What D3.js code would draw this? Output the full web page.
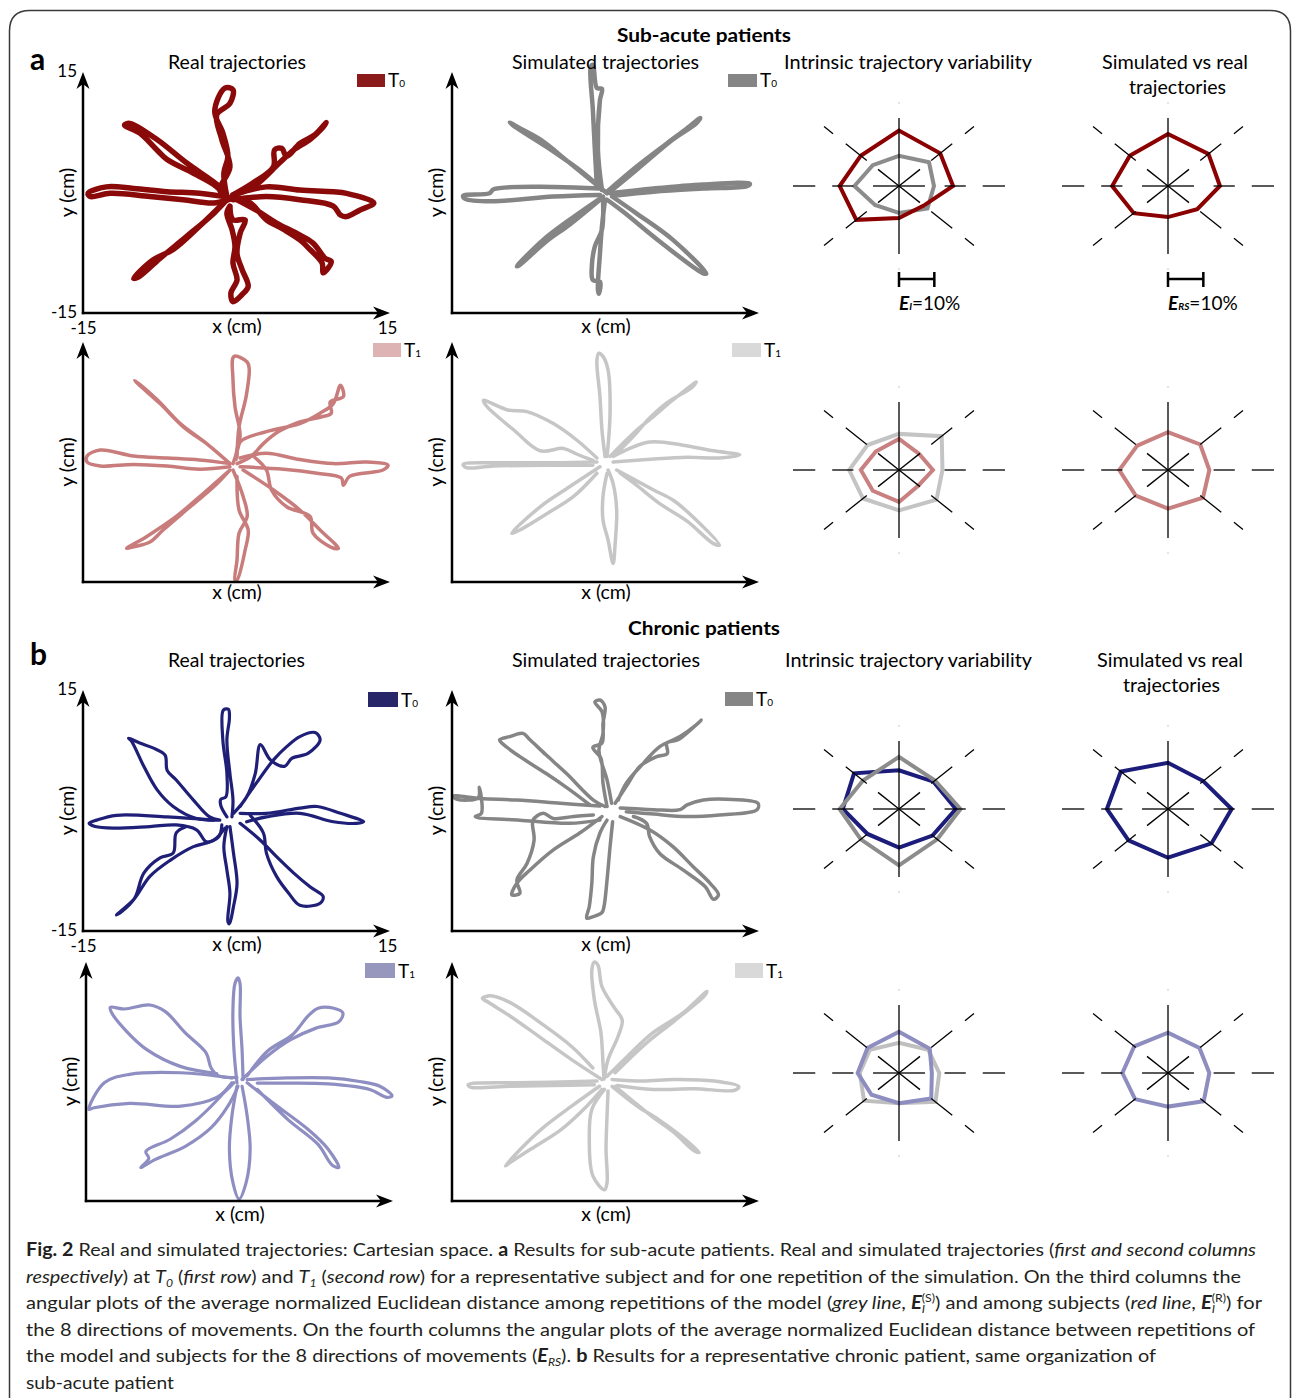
<!DOCTYPE html>
<html>
<head>
  <meta charset="utf-8">
  <script src="https://d3js.org/d3.v7.min.js"></script>
  <title>Real and simulated trajectories: Cartesian space</title>
  <style>
    body { margin: 0; background: #ffffff; }
    text { font-family: Lato, "Open Sans", sans-serif; white-space: pre; }
  </style>
</head>
<body>
  <div class="chart"></div>
  <script type="text/javascript">
    // Reaching movements, x / y in cm. One flat [x, y, x, y, ...] list per movement
    // (out to the target and back), 8 movements per panel.
    var subAcuteRealT0 = [
      [-0.8,-0.5, -1.1,2.4, -0.7,4.5, -1.2,7.4, -2.0,10.1, -1.0,13.0, -0.2,12.8, -0.5,11.1, -1.8,9.7, -1.3,6.6, -0.5,3.2, -1.5,0.3, -0.8,-0.5],
      [-0.8,-0.5, -2.1,1.0, -4.1,2.4, -6.7,4.1, -7.7,5.3, -9.4,7.4, -10.9,8.4, -10.4,8.6, -7.7,6.6, -4.8,3.7, -1.5,0.7, -0.8,-0.5],
      [-0.2,-0.3, 1.8,1.2, 3.8,3.2, 3.9,5.3, 4.6,5.5, 5.1,4.5, 6.4,6.1, 7.9,7.2, 9.0,8.7, 8.6,8.0, 7.4,6.6, 5.8,5.3, 4.4,3.7, 1.8,0.7, -0.2,-0.3],
      [-0.2,-0.3, 3.1,0.7, 6.4,0.3, 9.7,0.1, 11.0,-0.1, 13.7,-1.3, 12.3,-2.2, 11.0,-3.0, 10.4,-2.8, 9.7,-1.7, 6.4,-0.9, 3.1,-0.5, -0.2,-0.9],
      [-0.2,-0.7, -3.5,-0.1, -6.7,0.1, -10.0,0.5, -12.7,0.7, -14.5,-0.1, -14.3,-0.5, -12.3,-0.1, -8.4,-0.5, -5.1,-0.9, -2.1,-1.3, -0.2,-0.7],
      [0.2,-0.9, 2.1,-2.2, 4.1,-3.8, 6.1,-5.1, 7.7,-6.3, 8.9,-8.2, 9.5,-8.6, 8.7,-10.0, 8.6,-8.8, 7.4,-7.1, 6.4,-5.9, 4.8,-4.6, 3.1,-3.4, 1.5,-1.3, 0.2,-0.9],
      [-0.5,-1.7, -0.2,-3.4, 1.0,-3.4, 0.5,-5.1, 0.2,-7.6, 0.7,-9.6, 1.3,-11.7, 0.7,-12.7, -0.2,-13.6, -0.4,-12.5, 0.2,-10.9, -0.2,-8.8, 0,-6.7, -0.3,-4.6, -0.8,-2.6, -0.5,-1.7],
      [-0.8,-0.9, -3.5,-4.2, -6.1,-7.1, -8.1,-8.4, -10.0,-10.7, -9.5,-10.5, -7.4,-8.2, -4.8,-5.5, -2.1,-2.6, -0.8,-0.9]
    ];
    var subAcuteSimT0 = [
      [-0.2,0.3, -0.6,5.3, -0.4,11.5, -0.2,12.9, -0.7,13.0, -1.1,15.9, -1.3,15.7, -1.1,10.3, -0.9,5.3, -0.7,0.7],
      [0.3,-0.1, -3.4,3.7, -6.3,6.6, -8.3,8.0, -9.3,8.7, -8.8,8.2, -5.7,5.7, -2.0,2.4, -0.1,0.3],
      [0.3,0.1, 3.2,3.2, 6.2,6.1, 8.2,8.0, 9.5,9.3, 9.1,8.6, 6.8,6.6, 3.2,2.8, 0.6,0.1],
      [0.6,-0.1, 4.9,0.5, 9.8,1.0, 14.4,1.1, 14.1,0.8, 9.8,0.5, 4.9,0.1, 0.9,-0.4],
      [-0.4,0.5, -5.0,0.7, -10.9,0.4, -11.3,-0.1, -13.9,-0.4, -13.7,-0.8, -11.1,-1.1, -5.0,-0.5, -0.4,-0.3],
      [0.8,-0.5, 3.2,-2.6, 6.8,-5.9, 10.1,-10.1, 9.7,-10.0, 5.5,-6.1, 1.9,-2.4, 0.3,-0.9],
      [-0.1,-0.9, -0.2,-4.6, -0.9,-6.7, -1.2,-9.2, -1.1,-10.9, -0.4,-11.1, -0.5,-12.6, -0.6,-12.1, -0.4,-7.6, -0.2,-4.2, 0.1,-0.9],
      [-0.1,-0.5, -3.4,-3.4, -6.0,-5.9, -8.6,-9.2, -8.3,-9.0, -5.7,-6.1, -3.4,-4.0, -0.4,-0.9]
    ];
    var subAcuteRealT1 = [
      [-0.2,-0.2, 0.5,3.2, 0,6.9, -0.2,10.3, -0.1,13.2, 1.2,12.5, 1.4,11.7, 1.1,8.2, 0.4,4.4, 0.2,0.7],
      [-0.5,-0.2, -2.8,2.3, -5.4,4.8, -7.7,7.8, -9.9,10.2, -9.6,9.8, -7.4,7.3, -5.1,4.4, -2.5,2.0, -0.5,-0.2],
      [0.1,0.3, 0.5,2.5, 3.1,3.8, 6.4,4.8, 8.4,6.1, 9.7,7.3, 10.4,9.6, 10.7,8.2, 9.4,7.5, 9.5,6.1, 8.4,5.6, 6.4,5.0, 4.3,3.8, 2.8,2.3, 1.6,0.7, 0.2,-0.2],
      [0.5,0.5, 3.1,1.1, 6.4,0.3, 9.7,-0.2, 13.0,0, 15.1,-0.4, 14.6,-1.0, 11.3,-1.8, 10.7,-2.9, 10.5,-2.0, 8.1,-1.4, 4.8,-0.9, 0.5,-0.6],
      [-0.5,-0.2, -3.5,0.25, -6.7,0.5, -10.0,0.75, -13.3,1.5, -14.6,0.75, -14.6,0, -13.3,-0.5, -10.0,-0.3, -6.7,-0.5, -3.5,-0.9, -0.5,-0.6],
      [0.8,-1.0, 3.8,-3.5, 6.4,-6.0, 8.4,-8.5, 10.2,-10.8, 9.4,-10.6, 7.7,-8.9, 7.4,-6.8, 5.1,-5.6, 3.6,-3.5, 3.1,-1.0, 1.8,0.75],
      [-0.2,-1.0, 0.8,-4.3, 1.2,-6.8, 0.4,-8.9, 0.2,-12.25, 0,-14.8, 0.2,-14.75, 1.0,-11.0, 1.3,-8.5, 0.4,-6.0, 0.2,-1.8],
      [-0.5,-1.0, -3.1,-3.9, -5.8,-6.8, -8.7,-9.3, -10.7,-10.8, -10.0,-10.6, -8.4,-10.0, -7.1,-8.5, -4.8,-6.0, -2.1,-3.1, -0.5,-1.0]
    ];
    var subAcuteSimT1 = [
      [0.3,0.7, 0.6,6.1, 0.4,11.5, -0.1,13.2, -0.5,13.6, -0.7,12.75, -0.4,8.2, -0.2,4.0, 0.1,0.7],
      [-0.7,0.5, -2.7,2.75, -5.0,4.8, -7.6,6.3, -9.5,6.5, -11.9,7.7, -11.6,7.0, -8.9,4.0, -6.3,1.4, -4.0,1.7, -2.7,1.0, -1.1,0.2],
      [0.6,0.7, 2.9,3.6, 4.9,5.7, 6.8,7.75, 9.1,10.0, 8.65,9.3, 6.2,7.4, 4.5,5.5, 2.9,3.2, 1.1,0.9],
      [0.9,0.7, 4.5,2.5, 7.8,2.1, 10.8,1.4, 13.4,0.9, 11.4,0.5, 8.2,0.6, 4.2,0.3, 0.9,0],
      [-0.7,0, -5.0,-0.1, -10.6,-0.1, -13.9,-0.3, -13.6,-0.7, -10.9,-0.5, -5.0,-0.4, -1.1,-0.4],
      [1.25,-1.0, 4.9,-3.5, 6.8,-4.75, 9.1,-7.25, 11.4,-10.4, 10.8,-10.2, 8.2,-7.4, 5.5,-5.2, 3.2,-2.9, 1.6,-1.4],
      [0.3,-1.4, -0.1,-4.3, -0.1,-7.25, 0.4,-9.75, 0.9,-12.7, 1.1,-10.2, 1.25,-6.0, 0.9,-2.7, 0.4,-1.0],
      [-0.4,-0.6, -3.4,-3.1, -6.3,-5.6, -9.1,-8.9, -8.3,-8.5, -5.3,-6.2, -3.0,-4.3, -0.7,-1.4]
    ];
    var chronicRealT0 = [
      [-0.8,-0.8, -1.4,0.6, -1.4,1.4, -0.9,1.7, -0.8,4.6, -1.2,8.8, -1.15,12.5, -0.65,12.6, -0.55,11.5, -0.8,8.8, -0.5,4.6, -0.2,1.3, -0.3,-0.8],
      [-1.5,-1.2, -2.5,-0.8, -4.1,1.3, -5.8,3.8, -6.7,5.0, -6.9,6.9, -8.1,7.8, -9.4,8.4, -10.5,9.0, -10.2,8.6, -9.0,5.5, -7.7,2.6, -6.1,0.5, -3.8,-1.0, -1.5,-1.2],
      [-0.15,-0.35, 1.15,1.7, 2.0,4.6, 2.5,8.2, 3.5,6.3, 4.9,5.5, 5.6,6.5, 7.2,7.1, 8.4,8.8, 7.9,9.7, 6.4,9.2, 5.1,7.95, 3.8,6.3, 2.1,3.4, 0.5,0.5],
      [0.5,-0.35, 3.1,-0.35, 6.4,0.3, 8.1,0.5, 10.4,-0.35, 12.7,-1.4, 12.0,-1.6, 9.7,-1.4, 6.4,-0.35, 3.1,-0.8, 1.15,-1.4],
      [-2.1,-1.2, -6.7,-0.8, -11.7,-0.6, -13.65,-1.2, -14.4,-1.6, -13.8,-2.0, -12.0,-2.2, -8.4,-2.0, -5.8,-1.8, -3.8,-2.4, -2.8,-3.9, -1.6,-3.25, -1.3,-1.8],
      [0.5,-1.6, 2.5,-3.7, 4.1,-5.75, 5.8,-7.8, 7.4,-9.5, 8.7,-10.7, 8.4,-11.55, 6.4,-11.8, 5.3,-10.3, 4.1,-8.2, 3.1,-5.3, 2.8,-2.8, 1.5,-0.6],
      [-0.5,-2.0, -0.15,-5.3, 0.2,-9.1, -0.15,-11.95, -0.55,-14.1, -0.7,-13.85, -0.5,-10.3, -0.8,-7.4, -1.1,-4.5, -0.8,-2.0],
      [-1.0,-2.2, -2.1,-3.7, -4.1,-4.5, -6.4,-6.2, -8.4,-8.2, -10.0,-11.1, -11.7,-13.0, -11.2,-12.6, -9.9,-10.9, -9.0,-7.8, -7.4,-5.9, -6.1,-5.3, -5.8,-2.8, -4.8,-2.0]
    ];
    var chronicSimT0 = [
      [0.3,0.5, -0.1,3.4, -0.3,6.5, -1.1,7.85, -0.2,8.4, -0.1,10.85, 0.1,12.9, -0.4,13.75, -0.9,13.5, -0.2,12.3, -0.1,9.6, -0.5,7.5, 0.3,3.8, 0.75,0.9],
      [0.1,0.5, -1.05,1.3, -3.7,4.6, -5.7,6.9, -7.3,8.8, -8.0,9.6, -9.3,9.2, -10.3,8.8, -10.0,8.3, -8.3,6.7, -5.7,4.6, -3.4,2.6, -1.4,0.7],
      [1.1,0.9, 2.2,3.0, 3.55,5.5, 5.2,6.7, 6.25,7.1, 6.2,8.4, 7.3,8.8, 9.6,11.25, 9.1,10.65, 7.5,9.2, 5.5,7.95, 3.9,5.9, 2.2,3.4, 1.4,1.3],
      [1.6,0.3, 4.9,0.1, 7.5,0.1, 8.2,0.7, 9.8,1.3, 12.1,1.4, 15.2,0.9, 15.1,0.1, 11.4,-0.55, 8.2,-0.75, 4.9,-0.45, 2.2,-0.15],
      [-0.4,0.55, -4.3,0.9, -8.6,1.3, -12.2,1.5, -14.9,1.8, -14.5,1.4, -12.4,1.6, -12.3,2.9, -12.1,-0.35, -12.7,-0.75, -8.3,-1.2, -3.4,-1.6, -0.4,-1.2],
      [1.6,-0.75, 4.5,-2.4, 6.8,-4.5, 8.8,-7.0, 10.5,-9.1, 11.3,-10.5, 10.8,-11.05, 10.0,-9.5, 7.8,-7.4, 5.5,-5.35, 4.5,-3.25, 4.2,-1.6, 2.9,-0.75],
      [0.3,-1.2, -0.4,-2.8, -1.05,-5.75, -1.2,-9.05, -1.45,-11.95, -1.7,-13.4, -1.05,-13.2, -0.2,-12.7, 0,-11.95, 0.3,-8.65, 0.6,-4.5, 0.85,-1.4],
      [-0.2,-0.75, -2.4,-2.8, -5.0,-4.9, -7.3,-7.4, -8.6,-9.05, -9.1,-10.5, -8.3,-10.3, -8.6,-8.65, -7.6,-6.6, -6.9,-3.7, -7.0,-1.2, -6.0,-0.35, -5.0,-1.0, -3.0,-0.75, -1.05,-0.55]
    ];
    var chronicRealT1 = [
      [-0.1,-0.2, -0.4,4.0, -0.5,9.0, -0.3,12.3, 0,13.0, 0.2,12.3, 0.2,8.2, 0.4,4.0, 0.5,0.25],
      [-0.1,0.5, -1.9,0.7, -2.65,1.7, -3.15,3.6, -5.2,6.1, -7.2,8.8, -8.7,9.6, -11.2,9.1, -12.6,9.3, -12.5,8.7, -11.0,6.3, -9.0,4.0, -5.7,1.9, -2.1,1.0],
      [0.4,0.25, 2.9,3.2, 5.2,5.25, 7.7,6.7, 9.95,7.5, 10.35,8.6, 9.45,9.2, 7.9,9.2, 6.9,8.2, 5.4,5.9, 2.9,3.8, 0.9,0.7],
      [0.9,0.25, 4.9,0.45, 8.9,0.45, 12.0,0, 14.0,-0.6, 15.2,-1.8, 14.7,-2.0, 13.0,-1.0, 8.9,-0.3, 4.9,-0.2, 1.9,-0.2],
      [-0.6,0.45, -5.65,1.1, -10.7,0.9, -13.2,-0.15, -14.7,-3.5, -14.2,-3.3, -10.7,-2.75, -5.65,-3.1, -2.1,-2.0, -0.4,-0.15],
      [0.9,-0.15, 3.4,-2.65, 6.9,-6.0, 8.9,-8.5, 9.95,-10.8, 9.3,-10.5, 7.9,-7.9, 4.9,-4.75, 1.9,-1.0],
      [-0.1,-0.6, -0.6,-4.3, -0.85,-8.5, -0.5,-12.7, 0.1,-14.75, 0.8,-12.7, 1.2,-8.5, 0.9,-4.3, 0.4,-0.6],
      [-0.6,-0.15, -2.15,-2.45, -4.2,-4.95, -6.7,-7.25, -9.1,-8.8, -8.8,-9.65, -9.6,-10.8, -8.2,-9.8, -5.15,-8.1, -2.65,-5.8, -1.0,-3.1, 0,-0.6]
    ];
    var chronicSimT1 = [
      [0,0.3, -0.1,2.3, -0.3,6.1, -0.95,10.25, -1.2,14.0, -0.95,15.0, -0.6,14.6, -0.2,11.9, 1.05,9.2, 1.8,7.7, 1.4,5.7, 0.4,2.75, 0.05,0.45],
      [-0.2,0.25, -3.2,2.75, -6.2,5.45, -9.25,8.2, -11.3,9.85, -12.0,10.45, -11.2,10.75, -9.25,9.9, -6.2,7.3, -3.2,4.4, -1.1,1.7],
      [0.3,0.65, 2.3,3.15, 4.8,6.1, 7.8,8.6, 10.15,11.3, 9.9,10.75, 6.9,7.55, 4.4,5.05, 2.6,2.95, 1.1,1.1],
      [0.8,0.25, 3.85,0.05, 6.9,0.25, 10.9,0.05, 13.3,-0.65, 12.9,-1.1, 8.9,-0.9, 4.85,-1.0, 1.3,-0.5],
      [-0.7,0.05, -5.2,-0.1, -9.25,-0.15, -13.4,-0.4, -13.2,-0.7, -9.25,-0.6, -5.2,-0.5, -0.95,-0.4],
      [0.8,-0.6, 3.3,-3.1, 5.35,-4.75, 7.6,-6.85, 9.4,-8.9, 8.9,-8.7, 6.9,-6.4, 4.85,-4.5, 2.85,-2.45, 1.1,-0.6],
      [0.05,-1.0, -1.2,-3.5, -1.45,-7.25, -1.1,-11.85, 0.05,-13.6, 0.3,-12.7, 0.2,-8.5, 0.3,-4.3, 0.4,-1.2],
      [-0.45,-0.6, -3.2,-3.1, -6.2,-6.0, -8.25,-8.5, -9.75,-10.6, -9.35,-10.25, -7.25,-8.5, -4.2,-6.0, -1.7,-3.1, -0.2,-1.0]
    ];

    // Angular plots: average normalized euclidean distance (%) per direction
    var directions = [0, 45, 90, 135, 180, 225, 270, 315];
    var subAcuteT0SimEI  = [9.9, 12.0, 10.8, 10.5, 12.6, 9.6, 9.6, 11.4];
    var subAcuteT0RealEI = [15.3, 16.5, 19.8, 15.3, 16.8, 17.1, 11.4, 9.9];
    var subAcuteT0ERS    = [14.7, 16.2, 18.6, 15.3, 15.8, 13.7, 11.1, 11.7];
    var subAcuteT1SimEI  = [12.3, 17.1, 12.9, 12.6, 14.1, 14.4, 14.4, 15.0];
    var subAcuteT1RealEI = [9.6, 8.1, 11.1, 9.3, 10.8, 10.5, 11.4, 7.8];
    var subAcuteT1ERS    = [11.7, 12.9, 13.5, 12.3, 13.8, 12.9, 13.8, 14.0];
    var chronicT0SimEI   = [17.4, 14.4, 18.6, 14.4, 16.8, 15.3, 20.1, 15.3];
    var chronicT0RealEI  = [16.1, 13.8, 13.8, 18.0, 15.9, 12.6, 13.8, 13.4];
    var chronicT0ERS     = [18.0, 14.1, 16.5, 18.9, 17.3, 15.8, 17.4, 17.4];
    var chronicT1SimEI   = [11.4, 11.7, 10.8, 11.7, 11.1, 14.0, 10.8, 14.6];
    var chronicT1RealEI  = [9.3, 12.3, 14.7, 12.6, 11.7, 11.0, 10.8, 12.9];
    var chronicT1ERS     = [11.7, 12.6, 14.4, 13.5, 12.9, 13.2, 12.0, 14.3];

    var axisTicks = [-15, 15];
    var scaleBarValue = 10;

    var captionLines = [
      [['Fig. 2', 'b'], [' Real and simulated trajectories: Cartesian space. ', ''], ['a', 'b'], [' Results for sub-acute patients. Real and simulated trajectories (', ''], ['first and second columns', 'i']],
      [['respectively', 'i'], [') at ', ''], ['T', 'i'], ['0', 'subi'], [' (', ''], ['first row', 'i'], [') and ', ''], ['T', 'i'], ['1', 'subi'], [' (', ''], ['second row', 'i'], [') for a representative subject and for one repetition of the simulation. On the third columns the', '']],
      [['angular plots of the average normalized Euclidean distance among repetitions of the model (', ''], ['grey line', 'i'], [', ', ''], ['E', 'bi'], ['I', 'subi'], ['(S)', 'sup'], [') and among subjects (', ''], ['red line', 'i'], [', ', ''], ['E', 'bi'], ['I', 'subi'], ['(R)', 'sup'], [') for', '']],
      [['the 8 directions of movements. On the fourth columns the angular plots of the average normalized Euclidean distance between repetitions of', '']],
      [['the model and subjects for the 8 directions of movements (', ''], ['E', 'bi'], ['RS', 'subi'], [').', ''], [' ', ''], ['b', 'b'], [' Results for a representative chronic patient, same organization of', '']],
      [['sub-acute patient', '']]
    ];

    // ---- layout
    var panels = [
      {data: subAcuteRealT0, x0: 83, top: 72, bottom: 313, color: '#8a0a0a', width: 5.5, ticks: true, xlab: 333,
       legend: {x: 357, y: 74, w: 28, h: 13, fill: '#8b1a1a', sub: '0'}},
      {data: subAcuteSimT0, x0: 452, top: 72, bottom: 313, color: '#858585', width: 4.5, ticks: false, xlab: 333,
       legend: {x: 728, y: 74, w: 29, h: 13, fill: '#858585', sub: '0'}},
      {data: subAcuteRealT1, x0: 83, top: 342, bottom: 582, color: '#c97c7c', width: 3.5, ticks: false, xlab: 599,
       legend: {x: 373, y: 343, w: 28, h: 14, fill: '#ddb3b3', sub: '1'}},
      {data: subAcuteSimT1, x0: 452, top: 342, bottom: 582, color: '#c6c6c6', width: 3.5, ticks: false, xlab: 599,
       legend: {x: 732, y: 343, w: 29, h: 14, fill: '#d9d9d9', sub: '1'}},
      {data: chronicRealT0, x0: 83, top: 690, bottom: 931, color: '#1f1f78', width: 3.2, ticks: true, xlab: 951,
       legend: {x: 368, y: 692, w: 30, h: 15, fill: '#262668', sub: '0'}},
      {data: chronicSimT0, x0: 452, top: 690, bottom: 931, color: '#858585', width: 3.5, ticks: false, xlab: 951,
       legend: {x: 725, y: 692, w: 28, h: 14, fill: '#858585', sub: '0'}},
      {data: chronicRealT1, x0: 86, top: 962, bottom: 1201, color: '#8e8ec2', width: 3.2, ticks: false, xlab: 1221,
       legend: {x: 365, y: 963, w: 30, h: 15, fill: '#9797be', sub: '1'}},
      {data: chronicSimT1, x0: 452, top: 962, bottom: 1201, color: '#c6c6c6', width: 3.5, ticks: false, xlab: 1221,
       legend: {x: 735, y: 963, w: 28, h: 15, fill: '#d9d9d9', sub: '1'}}
    ];

    var polars = [
      {cx: 899, cy: 186, series: [{v: subAcuteT0SimEI, c: '#8c8c8c'}, {v: subAcuteT0RealEI, c: '#8b0000'}], bar: 'I'},
      {cx: 1168, cy: 186, series: [{v: subAcuteT0ERS, c: '#8b0000'}], bar: 'RS'},
      {cx: 899, cy: 470, series: [{v: subAcuteT1SimEI, c: '#c4c4c4'}, {v: subAcuteT1RealEI, c: '#c98080'}]},
      {cx: 1168, cy: 470, series: [{v: subAcuteT1ERS, c: '#c98080'}]},
      {cx: 899, cy: 809, series: [{v: chronicT0RealEI, c: '#1c1c7a'}, {v: chronicT0SimEI, c: '#8c8c8c'}]},
      {cx: 1168, cy: 809, series: [{v: chronicT0ERS, c: '#1c1c7a'}]},
      {cx: 899, cy: 1073, series: [{v: chronicT1SimEI, c: '#bfbfbf'}, {v: chronicT1RealEI, c: '#8d8dc0'}]},
      {cx: 1168, cy: 1073, series: [{v: chronicT1ERS, c: '#8d8dc0'}]}
    ];

    // pieces of each spoke of the angular plots (fraction of full radius)
    var spokeHoriz = [[0, 0.245], [0.43, 0.63], [0.79, 1]];
    var spokeDiag = [[0, 0.28], [0.43, 0.71], [0.88, 1]];
    var spokeVert = [[0, 0.81]];

    var svg = d3.select('.chart')
      .append('svg')
      .attr('width', 1293)
      .attr('height', 1398);

    // figure frame
    svg.append('path')
      .attr('d', 'M9.5,1400 V31 Q9.5,10.5 30,10.5 H1270 Q1290.5,10.5 1290.5,31 V1400')
      .attr('fill', 'none')
      .attr('stroke', '#3a3a3a')
      .attr('stroke-width', 1.5);

    function pairs(flat) {
      var pts = [];
      for (var i = 0; i < flat.length; i += 2) {
        pts.push([flat[i], flat[i + 1]]);
      }
      return pts;
    }

    function label(x, y, str, size, opts) {
      opts = opts || {};
      var t = svg.append('text')
        .attr('x', x)
        .attr('y', y)
        .attr('font-size', size)
        .attr('text-anchor', opts.anchor || 'middle')
        .attr('fill', '#000')
        .text(str);
      if (opts.bold) t.attr('font-weight', 'bold');
      if (opts.len) t.attr('textLength', opts.len).attr('lengthAdjust', 'spacingAndGlyphs');
      if (opts.rotate) t.attr('transform', 'rotate(-90,' + x + ',' + y + ')');
      return t;
    }

    function drawPanel(p) {
      var x = d3.scaleLinear().domain([-15, 15]).range([p.x0, p.x0 + 304]);
      var y = d3.scaleLinear().domain([-15, 15]).range([p.bottom, p.top]);
      var line = d3.line()
        .x(function(d) { return x(d[0]); })
        .y(function(d) { return y(d[1]); })
        .curve(d3.curveCatmullRom.alpha(0.5));

      var g = svg.append('g');
      g.selectAll('path.traj')
        .data(p.data)
        .enter()
        .append('path')
        .attr('class', 'traj')
        .attr('d', function(d) { return line(pairs(d)); })
        .attr('fill', 'none')
        .attr('stroke', p.color)
        .attr('stroke-width', p.width)
        .attr('stroke-linejoin', 'round')
        .attr('stroke-linecap', 'round');

      // arrow axes
      var tipX = p.x0 + 307;
      g.append('line')
        .attr('x1', p.x0 - 1.2).attr('y1', p.bottom)
        .attr('x2', tipX - 8).attr('y2', p.bottom)
        .attr('stroke', '#000').attr('stroke-width', 2.5);
      g.append('line')
        .attr('x1', p.x0).attr('y1', p.bottom + 1.2)
        .attr('x2', p.x0).attr('y2', p.top + 8)
        .attr('stroke', '#000').attr('stroke-width', 2.5);
      g.append('path')
        .attr('d', 'M' + tipX + ',' + p.bottom + ' l-17,-6.5 l5,6.5 l-5,6.5 z')
        .attr('fill', '#000');
      g.append('path')
        .attr('d', 'M' + p.x0 + ',' + p.top + ' l-6.5,17 l6.5,-5 l6.5,5 z')
        .attr('fill', '#000');

      if (p.ticks) {
        var fmt = function(d) { return String(d); };
        var ax = g.append('g')
          .attr('transform', 'translate(0,' + p.bottom + ')')
          .call(d3.axisBottom(x).tickValues(axisTicks).tickSize(0).tickPadding(9).tickFormat(fmt));
        var ay = g.append('g')
          .attr('transform', 'translate(' + p.x0 + ',-1)')
          .call(d3.axisLeft(y).tickValues(axisTicks).tickSize(0).tickPadding(6).tickFormat(fmt));
        [ax, ay].forEach(function(a) {
          a.select('.domain').remove();
          a.attr('font-family', null).attr('font-size', null);
          a.selectAll('text').attr('font-size', 17).attr('fill', '#000');
        });
      }

      label(p.x0 + 154, p.xlab, 'x (cm)', 19.5);
      label(p.x0 - 9, (p.top + p.bottom) / 2, 'y (cm)', 19.5, {rotate: true});

      // legend swatch
      var L = p.legend;
      g.append('rect')
        .attr('x', L.x).attr('y', L.y)
        .attr('width', L.w).attr('height', L.h)
        .attr('fill', L.fill);
      var lt = svg.append('text')
        .attr('x', L.x + L.w + 3)
        .attr('y', L.y + L.h)
        .attr('font-size', 19)
        .text('T');
      lt.append('tspan').attr('font-size', 10).text(L.sub);
    }

    function drawPolar(pl) {
      var rx = d3.scaleLinear().domain([0, 30]).range([0, 106]);
      var ry = d3.scaleLinear().domain([0, 30]).range([0, 84]);
      function pt(deg, v) {
        var a = deg * Math.PI / 180;
        return [pl.cx + rx(v) * Math.cos(a), pl.cy - ry(v) * Math.sin(a)];
      }
      var g = svg.append('g');
      var poly = d3.line().curve(d3.curveLinearClosed);

      g.selectAll('path.poly')
        .data(pl.series)
        .enter()
        .append('path')
        .attr('class', 'poly')
        .attr('d', function(s) {
          return poly(directions.map(function(deg, i) { return pt(deg, s.v[i]); }));
        })
        .attr('fill', 'none')
        .attr('stroke', function(s) { return s.c; })
        .attr('stroke-width', 4)
        .attr('stroke-linejoin', 'miter');

      directions.forEach(function(deg) {
        var segs = (deg % 180 === 0) ? spokeHoriz : (deg % 90 === 0 ? spokeVert : spokeDiag);
        segs.forEach(function(s) {
          var a = pt(deg, s[0] * 30), b = pt(deg, s[1] * 30);
          g.append('line')
            .attr('x1', a[0]).attr('y1', a[1])
            .attr('x2', b[0]).attr('y2', b[1])
            .attr('stroke', '#000').attr('stroke-width', 1.3);
        });
        if (deg % 180 === 90) {
          var a = pt(deg, 29.4), b = pt(deg, 30);
          g.append('line')
            .attr('x1', a[0]).attr('y1', a[1])
            .attr('x2', b[0]).attr('y2', b[1])
            .attr('stroke', '#bbb').attr('stroke-width', 1);
        }
      });

      if (pl.bar) {
        var x2 = pl.cx + rx(scaleBarValue), yb = 279;
        g.append('path')
          .attr('d', 'M' + pl.cx + ',' + yb + ' H' + x2 + ' M' + pl.cx + ',272 V287 M' + x2 + ',272 V287')
          .attr('fill', 'none')
          .attr('stroke', '#000')
          .attr('stroke-width', 2.5);
        var t = svg.append('text')
          .attr('x', pl.cx)
          .attr('y', 310)
          .attr('font-size', 19);
        t.append('tspan').attr('font-weight', 'bold').attr('font-style', 'italic').text('E');
        t.append('tspan').attr('font-weight', 'bold').attr('font-style', 'italic').attr('font-size', 10).text(pl.bar);
        t.append('tspan').text('=' + scaleBarValue + '%');
      }
    }

    panels.forEach(drawPanel);
    polars.forEach(drawPolar);

    // headings and panel letters
    label(30, 70, 'a', 30, {anchor: 'start', bold: true});
    label(30, 665, 'b', 30, {anchor: 'start', bold: true});
    label(704, 42, 'Sub-acute patients', 19, {bold: true, len: 174});
    label(704, 635, 'Chronic patients', 19, {bold: true, len: 152});

    label(237, 69, 'Real trajectories', 19, {len: 138});
    label(605.5, 69, 'Simulated trajectories', 19, {len: 187});
    label(908, 69, 'Intrinsic trajectory variability', 19, {len: 248});
    label(1175, 69, 'Simulated vs real', 19, {len: 146});
    label(1177.5, 94, 'trajectories', 19, {len: 97});

    label(236.5, 667, 'Real trajectories', 19, {len: 137});
    label(606, 667, 'Simulated trajectories', 19, {len: 188});
    label(908.5, 667, 'Intrinsic trajectory variability', 19, {len: 247});
    label(1170, 667, 'Simulated vs real', 19, {len: 146});
    label(1171.5, 692, 'trajectories', 19, {len: 97});

    // caption
    var captionWidths = [1230, 1215, 1236, 1229, 1130, 148];
    captionLines.forEach(function(segs, i) {
      var t = svg.append('text')
        .attr('x', 26)
        .attr('y', 1256 + i * 26.6)
        .attr('font-size', 18)
        .attr('fill', '#231f20');
      var off = 0;
      segs.forEach(function(s) {
        var st = s[1];
        var target = st === 'subi' ? 4 : (st === 'sup' ? -7 : 0);
        var ts = t.append('tspan').attr('dy', target - off).text(s[0]);
        if (st === 'sup') ts.attr('dx', -3);
        off = target;
        if (st === 'b' || st === 'bi') ts.attr('font-weight', 'bold');
        if (st === 'i' || st === 'bi' || st === 'subi') ts.attr('font-style', 'italic');
        if (st === 'subi' || st === 'sup') ts.attr('font-size', 11);
      });
      t.attr('textLength', captionWidths[i]).attr('lengthAdjust', 'spacingAndGlyphs');
    });
  </script>
</body>
</html>
